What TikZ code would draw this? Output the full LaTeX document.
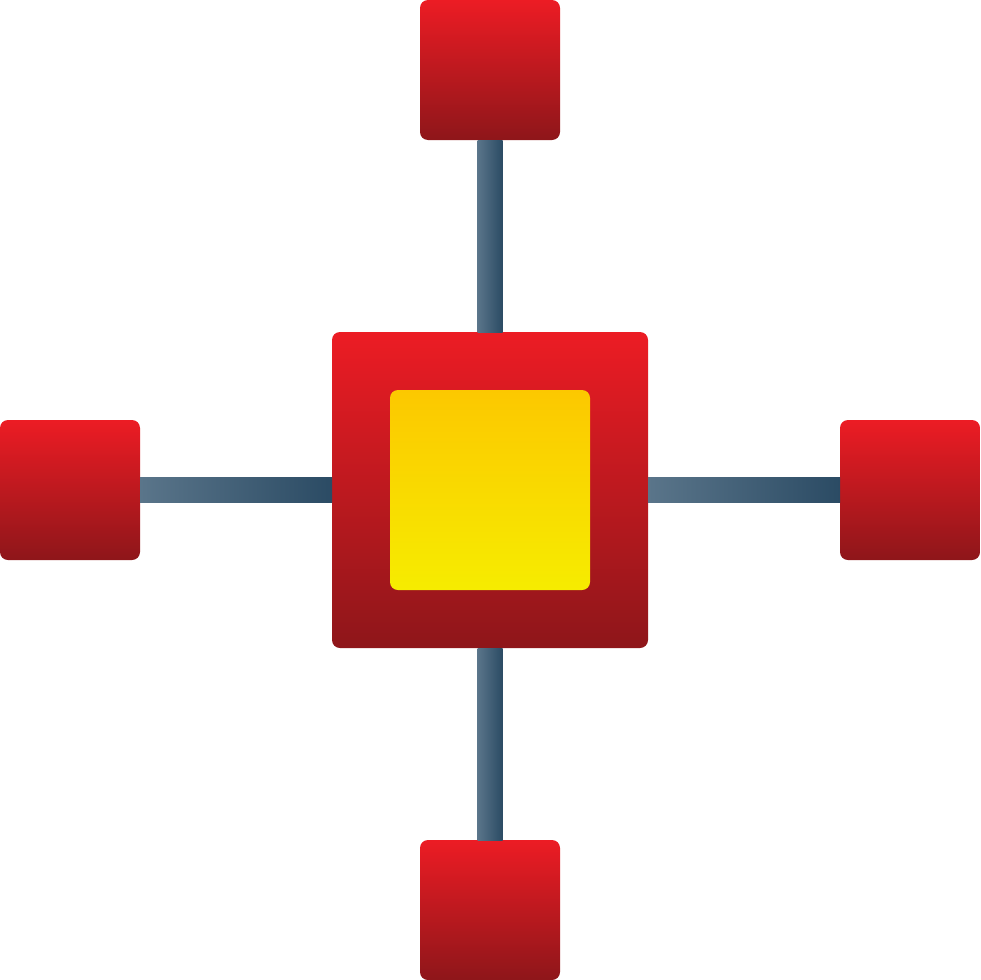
\documentclass[tikz,border=0pt]{standalone}
\usetikzlibrary{calc}
\definecolor{redtop}{HTML}{EC1C24}
\definecolor{redbot}{HTML}{8E161A}
\definecolor{yeltop}{HTML}{FCC800}
\definecolor{yelbot}{HTML}{F6EC00}
\definecolor{linelight}{HTML}{5A758A}
\definecolor{linedark}{HTML}{2B4B64}
\begin{document}
\begin{tikzpicture}[x=1pt,y=-1pt,
  redbox/.style={shading=axis,top color=redtop,bottom color=redbot,rounded corners=8pt,inner sep=0pt,outer sep=0pt},
  smallbox/.style={redbox,minimum width=140pt,minimum height=140pt},
  bigbox/.style={redbox,minimum width=316pt,minimum height=316pt},
  yelbox/.style={shading=axis,top color=yeltop,bottom color=yelbot,rounded corners=8pt,inner sep=0pt,outer sep=0pt,minimum width=200pt,minimum height=200pt},
  conn/.style={left color=linelight,right color=linedark}
]
\useasboundingbox (0,0) rectangle (980,980);
\node[bigbox] (center) at (490,490) {};
\node[yelbox] (core) at (490,490) {};
\node[smallbox] (top) at (490,70) {};
\node[smallbox] (bottom) at (490,910) {};
\node[smallbox] (left) at (70,490) {};
\node[smallbox] (right) at (910,490) {};
\shade[conn] ($(top.south)+(-12.5,0)$) rectangle ($(center.north)+(12.5,0)$);
\shade[conn] ($(center.south)+(-12.5,0)$) rectangle ($(bottom.north)+(12.5,0)$);
\shade[conn] ($(left.east)+(0,-12.5)$) rectangle ($(center.west)+(0,12.5)$);
\shade[conn] ($(center.east)+(0,-12.5)$) rectangle ($(right.west)+(0,12.5)$);
\end{tikzpicture}
\end{document}
